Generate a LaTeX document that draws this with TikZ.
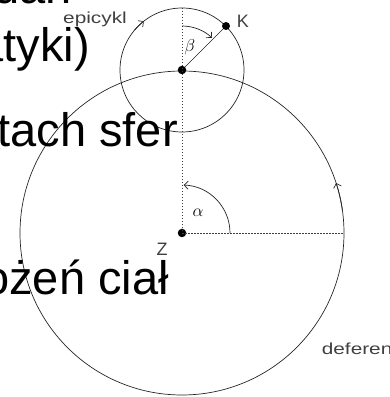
\documentclass[tikz,border=0pt]{standalone}
\usepackage{fontspec}
\setmainfont{Liberation Sans}
\usetikzlibrary{arrows, arrows.meta, positioning, calc}

\begin{document}
\begin{tikzpicture}[x=1pt, y=1pt, >={Straight Barb[length=4pt, width=8pt]}]
    \tikzstyle{orbit} = [draw=black!85, line width=0.7pt]
    \tikzstyle{guide} = [draw=black!75, line width=0.8pt, dash pattern=on 1.5pt off 1.5pt]
    \tikzstyle{dot} = [circle, fill=black, inner sep=0pt, minimum size=8.5pt]
    \tikzstyle{tag} = [text=black!75, inner sep=0pt, font=\fontsize{16}{17}\selectfont]
    \tikzstyle{slide} = [anchor=base east, inner sep=0pt, font=\fontsize{47}{56}\selectfont]

    \useasboundingbox (0,0) rectangle (390,397);

    % deferent and epicycle
    \coordinate (Z) at (182,164);
    \coordinate (E) at (182,327);
    \draw[orbit] (Z) circle (162);
    \draw[orbit] (E) circle (62);
    \draw[orbit, ->] ($(E)+(140:62)$) arc (140:128:62);
    \draw[orbit, ->] ($(Z)+(8:162)$) arc (8:18:162);

    \coordinate (etop) at (182,389);
    \coordinate (dright) at (344,164);
    \node[dot] (zdot) at (Z) {};
    \node[dot] (edot) at (E) {};
    \node[dot, minimum size=8pt] (kdot) at (226,371) {};

    \draw[guide] (etop) -- (zdot.center);
    \draw[guide] (zdot.center) -- (dright);
    \draw[orbit] (edot) -- (kdot);

    % angles
    \draw[orbit, ->] (182,371) arc (90:47:44);
    \draw[orbit, ->] (230,164) arc (0:88:48);
    \node[font=\fontsize{16}{18}\selectfont] at (190,350) {$\beta$};
    \node[font=\fontsize{16}{18}\selectfont] at (198,184) {$\alpha$};

    % labels
    \node[tag, font=\fontsize{18}{19}\selectfont] (klabel) at (243,376) {K};
    \node[tag, font=\fontsize{18}{19}\selectfont] (zlabel) at (162,148) {Z};
    \node[tag] (epi) at (95,378) {\scalebox{1.3}[1]{epicykl}};
    \node[tag] (def) at (360,48) {\scalebox{1.3}[1]{deferent}};

    % slide text
    \node[slide] (l1) at (72,393) {dan};
    \node[slide] (l2) at (90,335) {atyki)};
    \node[slide] (l3) at (178,250) {tach sfer};
    \node[slide] (l4) at (169,102) {ożeń ciał};
\end{tikzpicture}
\end{document}
